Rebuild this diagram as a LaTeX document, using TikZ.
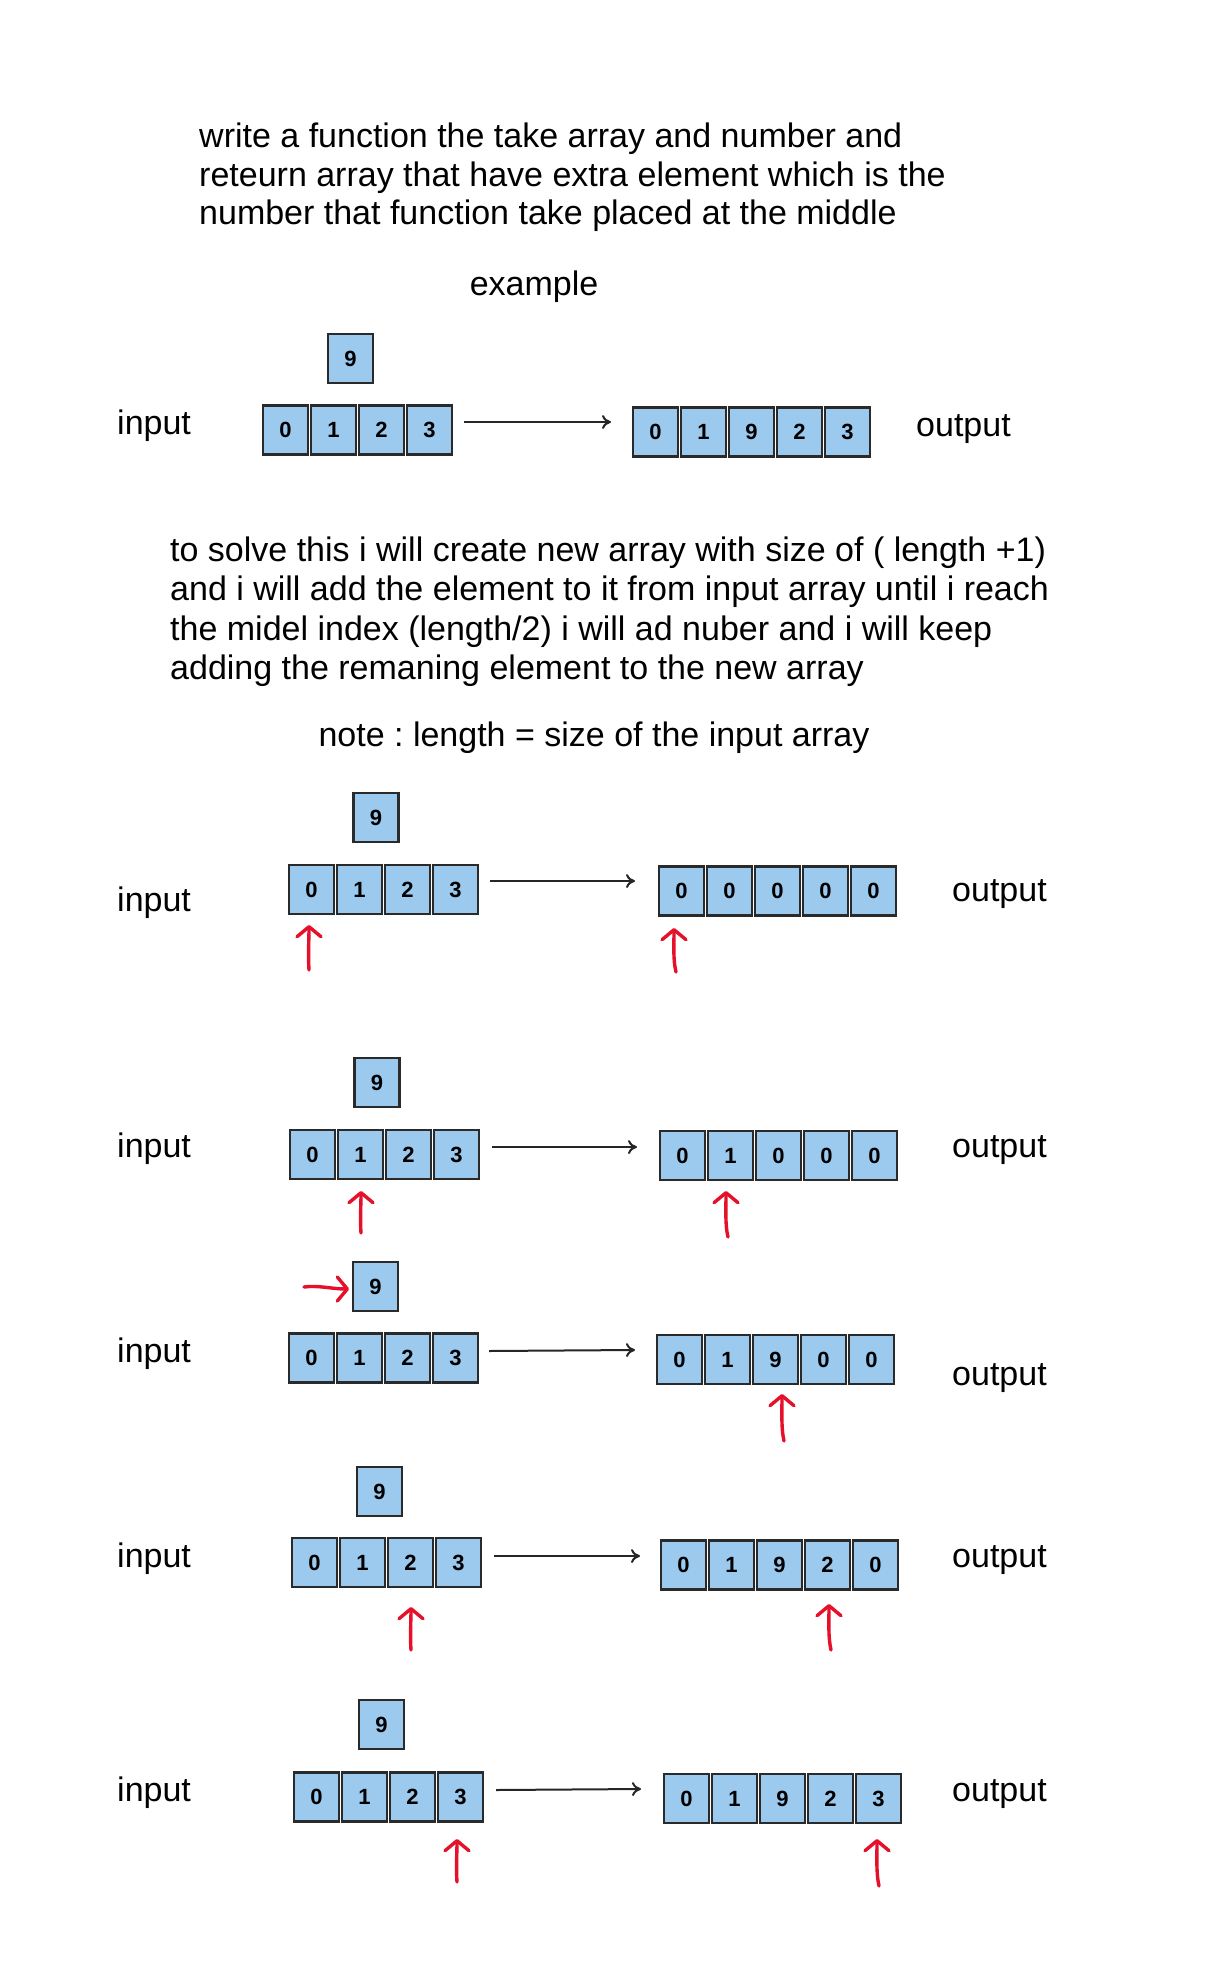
\documentclass[tikz,border=0pt]{standalone}
\usepackage{fontspec}
\setmainfont{Liberation Sans}
\usetikzlibrary{arrows.meta}
\frenchspacing
\definecolor{cellblue}{HTML}{9CC9EE}
\definecolor{celledge}{HTML}{2A2A2A}
\definecolor{penred}{HTML}{E5102A}
\tikzset{
  cellbox/.style={draw=celledge, fill=cellblue, line width=2.2pt, minimum width=45pt, minimum height=49pt, inner sep=0pt, font=\fontsize{22}{26}\selectfont\bfseries},
  txt/.style={inner sep=0pt, anchor=base west, font=\fontsize{34}{40}\selectfont},
  ctxt/.style={txt, anchor=base},
  flow/.style={-{To[length=9pt,width=14pt]}, line width=2pt, black!85},
  pen/.style={penred, line width=3.4pt, line cap=round, -{Straight Barb[length=10pt,width=24pt,round]}}
}
\newcommand\cellrow[4]{%
  \foreach \d [count=\i from 0] in {#4} {\node[cellbox] (#1\i) at (#2+23.5+48*\i, #3) {\d};}}
\begin{document}
\begin{tikzpicture}[x=1pt,y=-1pt]
\useasboundingbox (0,0) rectangle (1209,1988);
% heading
\node[txt] (t1) at (199,147.5) {write a function the take array and number and};
\node[txt] (t2) at (199,186.5) {reteurn array that have extra element which is the};
\node[txt] (t3) at (199,225) {number that function take placed at the middle};
\node[ctxt] (ex) at (534,295.5) {example};
% example
\node[cellbox] (en) at (350.5,358.5) {9};
\cellrow{ei}{262}{430}{0,1,2,3}
\cellrow{eo}{632}{432}{0,1,9,2,3}
\node[txt] (eil) at (117,434) {input};
\node[txt] (eol) at (916,436) {output};
\coordinate (ea1) at (464,422); \coordinate (ea2) at (611,422);
\draw[flow] (ea1) -- (ea2);
% paragraph
\node[txt] (p1) at (170,561) {to solve this i will create new array with size of ( length +1)};
\node[txt] (p2) at (170,600.5) {and i will add the element to it from input array until i reach};
\node[txt] (p3) at (170,640) {the midel index (length/2) i will ad nuber and i will keep};
\node[txt] (p4) at (170,679.5) {adding the remaning element to the new array};
\node[ctxt] (nt) at (594,746.5) {note : length = size of the input array};
% row 1
\node[cellbox] (an) at (376,817.5) {9};
\cellrow{ai}{288}{889.5}{0,1,2,3}
\cellrow{ao}{658}{891}{0,0,0,0,0}
\node[txt] (ail) at (117,911) {input};
\node[txt] (aol) at (952,901) {output};
\coordinate (aa1) at (490,881); \coordinate (aa2) at (635,881);
\draw[flow] (aa1) -- (aa2);
\coordinate (ap1) at (309,970); \coordinate (ap2) at (309,925);
\draw[pen] (ap1) .. controls (308,955) and (309,940) .. (ap2);
\coordinate (aq1) at (676,972); \coordinate (aq2) at (674,928);
\draw[pen] (aq1) .. controls (673,960) and (674,945) .. (aq2);
% row 2
\node[cellbox] (bn) at (377,1082.5) {9};
\cellrow{bi}{289}{1154.5}{0,1,2,3}
\cellrow{bo}{659}{1155.5}{0,1,0,0,0}
\node[txt] (bil) at (117,1157) {input};
\node[txt] (bol) at (952,1157) {output};
\coordinate (ba1) at (492,1147); \coordinate (ba2) at (637,1147);
\draw[flow] (ba1) -- (ba2);
\coordinate (bp1) at (361,1233); \coordinate (bp2) at (361,1191);
\draw[pen] (bp1) .. controls (360,1220) and (361,1205) .. (bp2);
\coordinate (bq1) at (728,1237); \coordinate (bq2) at (726,1191);
\draw[pen] (bq1) .. controls (725,1225) and (726,1208) .. (bq2);
% row 3
\node[cellbox] (cn) at (375.5,1286.5) {9};
\cellrow{ci}{288}{1358}{0,1,2,3}
\cellrow{co}{656}{1359.5}{0,1,9,0,0}
\node[txt] (cil) at (117,1362) {input};
\node[txt] (col) at (952,1385) {output};
\coordinate (ca1) at (489,1351); \coordinate (ca2) at (635,1350);
\draw[flow] (ca1) -- (ca2);
\coordinate (cp1) at (304,1287); \coordinate (cp2) at (349,1289);
\draw[pen] (cp1) .. controls (318,1285) and (332,1289) .. (cp2);
\coordinate (cq1) at (784,1441); \coordinate (cq2) at (782,1394);
\draw[pen] (cq1) .. controls (781,1428) and (782,1410) .. (cq2);
% row 4
\node[cellbox] (dn) at (379.5,1491.5) {9};
\cellrow{di}{291}{1562.5}{0,1,2,3}
\cellrow{do}{660}{1565}{0,1,9,2,0}
\node[txt] (dil) at (117,1567) {input};
\node[txt] (dol) at (952,1567) {output};
\coordinate (da1) at (494,1556); \coordinate (da2) at (640,1556);
\draw[flow] (da1) -- (da2);
\coordinate (dp1) at (411,1650); \coordinate (dp2) at (411,1607);
\draw[pen] (dp1) .. controls (410,1637) and (411,1620) .. (dp2);
\coordinate (dq1) at (831,1650); \coordinate (dq2) at (829,1604);
\draw[pen] (dq1) .. controls (828,1637) and (829,1620) .. (dq2);
% row 5
\node[cellbox] (en5) at (381.5,1724.5) {9};
\cellrow{fi}{293}{1797}{0,1,2,3}
\cellrow{fo}{663}{1798.5}{0,1,9,2,3}
\node[txt] (fil) at (117,1801) {input};
\node[txt] (fol) at (952,1801) {output};
\coordinate (fa1) at (496,1790); \coordinate (fa2) at (641,1789);
\draw[flow] (fa1) -- (fa2);
\coordinate (fp1) at (457,1882); \coordinate (fp2) at (457,1839);
\draw[pen] (fp1) .. controls (456,1869) and (457,1852) .. (fp2);
\coordinate (fq1) at (879,1886); \coordinate (fq2) at (877,1839);
\draw[pen] (fq1) .. controls (876,1873) and (877,1855) .. (fq2);
\end{tikzpicture}
\end{document}
